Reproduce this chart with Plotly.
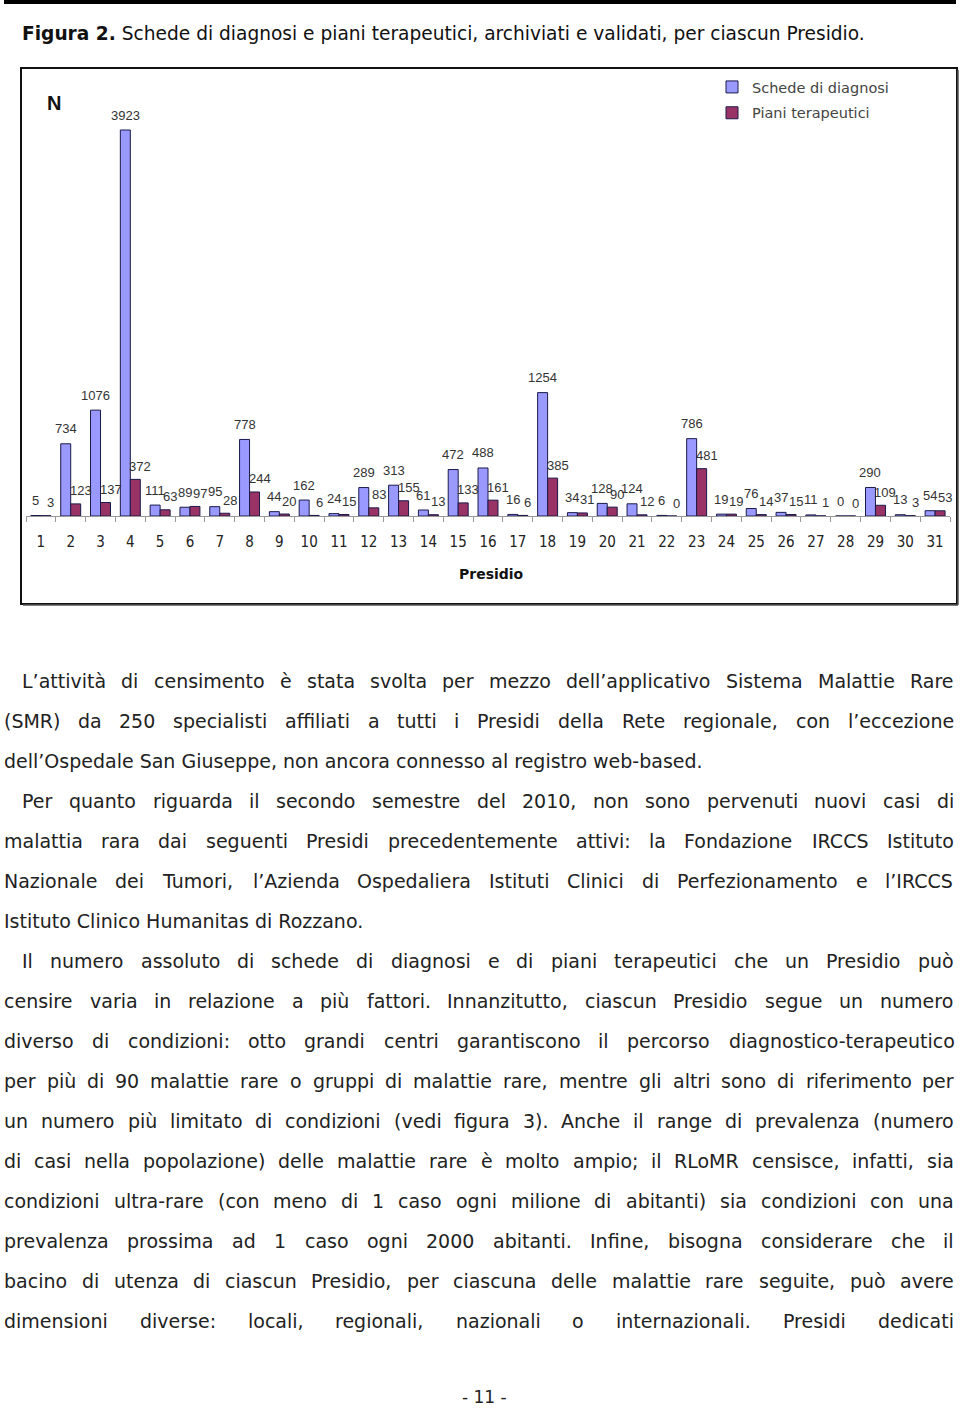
import plotly.graph_objects as go

W, H = 960, 1408

presidi = [str(i) for i in range(1, 32)]
schede = [5, 734, 1076, 3923, 111, 89, 95, 778, 44, 162, 24, 289, 313, 61, 472, 488, 16,
          1254, 34, 128, 124, 6, 786, 19, 76, 37, 11, 0, 290, 13, 54]
piani = [3, 123, 137, 372, 63, 97, 28, 244, 20, 6, 15, 83, 155, 13, 133, 161, 6,
         385, 31, 90, 12, 0, 481, 19, 14, 15, 1, 0, 109, 3, 53]

title_bold = "Figura 2."
title_rest = " Schede di diagnosi e piani terapeutici, archiviati e validati, per ciascun Presidio."

# (text, indent, justified)
body_lines = [
    ("L’attività di censimento è stata svolta per mezzo dell’applicativo Sistema Malattie Rare", True, True),
    ("(SMR) da 250 specialisti affiliati a tutti i Presidi della Rete regionale, con l’eccezione", False, True),
    ("dell’Ospedale San Giuseppe, non ancora connesso al registro web-based.", False, False),
    ("Per quanto riguarda il secondo semestre del 2010, non sono pervenuti nuovi casi di", True, True),
    ("malattia rara dai seguenti Presidi precedentemente attivi: la Fondazione IRCCS Istituto", False, True),
    ("Nazionale dei Tumori, l’Azienda Ospedaliera Istituti Clinici di Perfezionamento e l’IRCCS", False, True),
    ("Istituto Clinico Humanitas di Rozzano.", False, False),
    ("Il numero assoluto di schede di diagnosi e di piani terapeutici che un Presidio può", True, True),
    ("censire varia in relazione a più fattori. Innanzitutto, ciascun Presidio segue un numero", False, True),
    ("diverso di condizioni: otto grandi centri garantiscono il percorso diagnostico-terapeutico", False, True),
    ("per più di 90 malattie rare o gruppi di malattie rare, mentre gli altri sono di riferimento per", False, True),
    ("un numero più limitato di condizioni (vedi figura 3). Anche il range di prevalenza (numero", False, True),
    ("di casi nella popolazione) delle malattie rare è molto ampio; il RLoMR censisce, infatti, sia", False, True),
    ("condizioni ultra-rare (con meno di 1 caso ogni milione di abitanti) sia condizioni con una", False, True),
    ("prevalenza prossima ad 1 caso ogni 2000 abitanti. Infine, bisogna considerare che il", False, True),
    ("bacino di utenza di ciascun Presidio, per ciascuna delle malattie rare seguite, può avere", False, True),
    ("dimensioni diverse: locali, regionali, nazionali o internazionali. Presidi dedicati", False, True),
]
page_number = "- 11 -"

FONT = "DejaVu Sans"
NUMFONT = "Liberation Sans"
TICKFONT = "DejaVu Sans Condensed, DejaVu Sans"

# approximate DejaVu Sans advance widths (units per 2048 em)
CW = {' ': 651, '!': 821, '(': 799, ')': 799, ',': 651, '-': 739, '.': 651, ':': 690, ';': 690,
      '’': 651, "'": 563,
      'A': 1401, 'B': 1405, 'C': 1430, 'D': 1577, 'E': 1294, 'F': 1178, 'G': 1587, 'H': 1540,
      'I': 604, 'J': 604, 'K': 1343, 'L': 1141, 'M': 1767, 'N': 1532, 'O': 1612, 'P': 1235,
      'Q': 1612, 'R': 1423, 'S': 1300, 'T': 1251, 'U': 1499, 'V': 1401, 'W': 2025, 'X': 1403,
      'Y': 1251, 'Z': 1403,
      'a': 1255, 'b': 1300, 'c': 1126, 'd': 1300, 'e': 1260, 'f': 721, 'g': 1300, 'h': 1298,
      'i': 569, 'j': 569, 'k': 1186, 'l': 569, 'm': 1995, 'n': 1298, 'o': 1253, 'p': 1300,
      'q': 1300, 'r': 842, 's': 1067, 't': 803, 'u': 1298, 'v': 1212, 'w': 1675, 'x': 1212,
      'y': 1212, 'z': 1075,
      'à': 1255, 'è': 1260, 'é': 1260, 'ì': 569, 'ò': 1253, 'ù': 1298}
for d in '0123456789':
    CW[d] = 1303


def tw(s, size):
    return sum(CW.get(c, 1250) for c in s) / 2048.0 * size


def px(x):
    return x / W


def py(y):
    return 1 - y / H


fig = go.Figure()
fig.add_trace(go.Bar(
    x=presidi, y=schede, name="Schede di diagnosi", legendgroup="a",
    marker=dict(color="#9999FF", line=dict(color="#1a1a4a", width=1)), cliponaxis=False))
fig.add_trace(go.Bar(
    x=presidi, y=piani, name="Piani terapeutici", legendgroup="b",
    marker=dict(color="#993366", line=dict(color="#1a1a4a", width=1)), cliponaxis=False))

base_px, top_px = 516, 100
fig.update_layout(
    width=W, height=H, margin=dict(l=0, r=0, t=0, b=0),
    paper_bgcolor="white", plot_bgcolor="white",
    barmode="group", bargap=0.33, bargroupgap=0,
    font=dict(family=FONT, color="#333333"),
    xaxis=dict(domain=[px(26), px(950)], type="category", showgrid=False,
               range=[-0.5, len(presidi) - 0.5], autorange=False,
               showline=True, linecolor="#999999", linewidth=1,
               ticks="outside", ticklen=5, tickcolor="#999999", tickson="boundaries",
               tickfont=dict(family=TICKFONT, size=15, color="#222222"), ticklabelstandoff=12),
    yaxis=dict(domain=[py(base_px), py(top_px)], range=[0, 3923 * (base_px - top_px) / (516 - 130)],
               visible=False, showgrid=False),
    legend=dict(x=px(712), y=py(71), xanchor="left", yanchor="top",
                font=dict(family=FONT, size=14.5, color="#444444"), bgcolor="rgba(0,0,0,0)",
                traceorder="grouped", tracegroupgap=4),
    showlegend=True,
)

shapes = [
    dict(type="rect", xref="paper", yref="paper", x0=px(21), x1=px(957), y0=py(604), y1=py(68),
         line=dict(color="#111111", width=2)),
    dict(type="line", xref="paper", yref="paper", x0=px(23), x1=px(958), y0=py(605), y1=py(605),
         line=dict(color="#555555", width=1.5)),
    dict(type="line", xref="paper", yref="paper", x0=px(958), x1=px(958), y0=py(605), y1=py(70),
         line=dict(color="#555555", width=1.5)),
    dict(type="rect", xref="paper", yref="paper", x0=px(4), x1=px(956), y0=py(4), y1=py(0),
         fillcolor="#000000", line=dict(width=0)),
]
fig.update_layout(shapes=shapes)

ann = []
# data labels above bars (category index positions; red labels nudged right as in the reference)
for i, v in enumerate(schede):
    ann.append(dict(x=i, y=v, xref="x", yref="y", showarrow=False, text=str(v),
                    xanchor="center", yanchor="middle", xshift=-5, yshift=15, borderpad=0,
                    font=dict(family=NUMFONT, size=13, color="#333333")))
for i, v in enumerate(piani):
    ann.append(dict(x=i, y=v, xref="x", yref="y", showarrow=False, text=str(v),
                    xanchor="center", yanchor="middle", xshift=10, yshift=13, borderpad=0,
                    font=dict(family=NUMFONT, size=13, color="#333333")))

ann.append(dict(x=px(21), y=py(33), xref="paper", yref="paper", xanchor="left", yanchor="middle",
                showarrow=False, borderpad=0,
                text="<b>" + title_bold + "</b>" + title_rest,
                font=dict(family=FONT, size=18.6, color="#111111")))
ann.append(dict(x=px(46), y=py(103), xref="paper", yref="paper", xanchor="left", yanchor="middle",
                showarrow=False, borderpad=0, text="<b>N</b>",
                font=dict(family="Liberation Sans", size=20, color="#111111")))
ann.append(dict(x=px(492), y=py(574), xref="paper", yref="paper", xanchor="center", yanchor="middle",
                showarrow=False, borderpad=0, text="<b>Presidio</b>",
                font=dict(family=FONT, size=14, color="#111111")))

BS = 19
left0, indent0, right0 = 3, 21, 953
y0, dy = 681, 40
for i, (line, indent, just) in enumerate(body_lines):
    yy = py(y0 + i * dy)
    lx = indent0 if indent else left0
    if not just:
        ann.append(dict(x=px(lx), y=yy, xref="paper", yref="paper", xanchor="left", yanchor="middle",
                        showarrow=False, borderpad=0, text=line,
                        font=dict(family=FONT, size=BS, color="#222222")))
        continue
    words = line.split(" ")
    widths = [tw(w, BS) for w in words]
    gap = (right0 - lx - sum(widths)) / (len(words) - 1)
    xx = lx
    for w, wd in zip(words, widths):
        ann.append(dict(x=px(xx), y=yy, xref="paper", yref="paper", xanchor="left", yanchor="middle",
                        showarrow=False, borderpad=0, text=w,
                        font=dict(family=FONT, size=BS, color="#222222")))
        xx += wd + gap

ann.append(dict(x=px(484), y=py(1397), xref="paper", yref="paper", xanchor="center", yanchor="middle",
                showarrow=False, borderpad=0, text=page_number,
                font=dict(family=FONT, size=17, color="#222222")))
fig.update_layout(annotations=ann)

fig.write_html("out.html", config={"displayModeBar": False},
               post_script="document.body.style.margin='0';document.body.style.padding='0';"
                           "document.body.style.overflow='hidden';")
